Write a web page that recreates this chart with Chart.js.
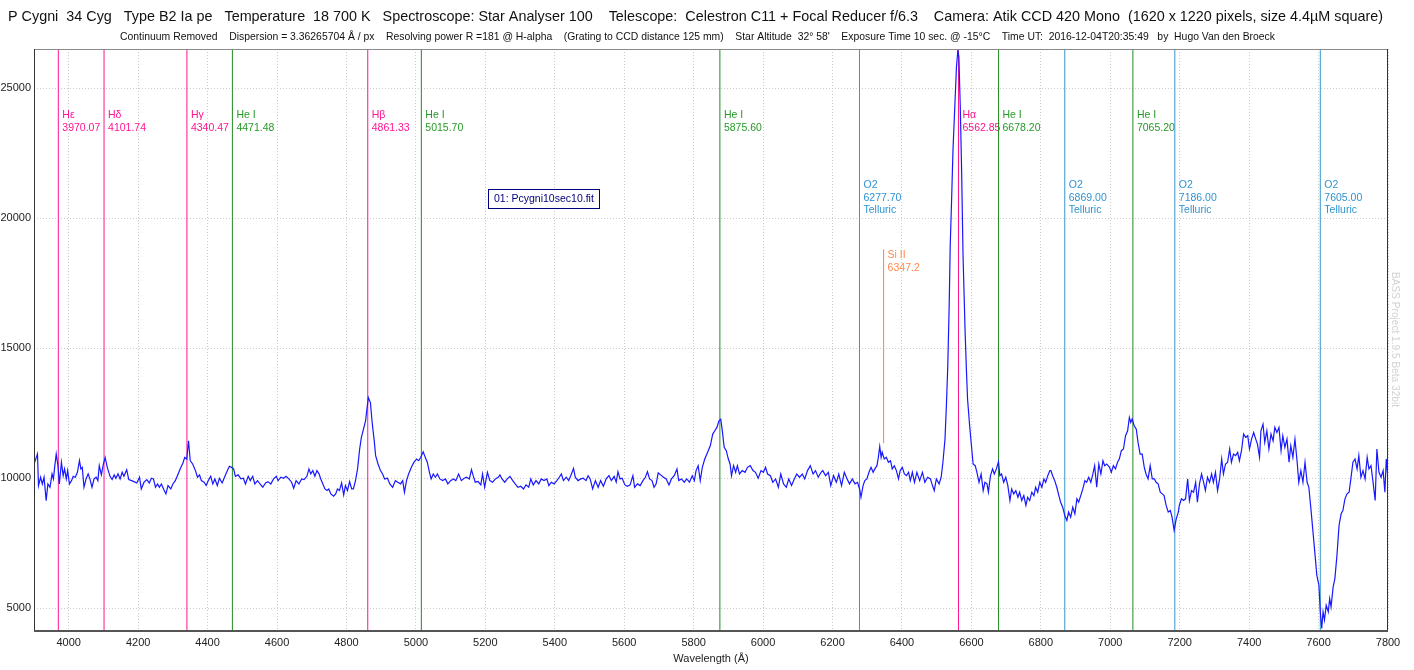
<!DOCTYPE html>
<html>
<head>
<meta charset="utf-8">
<script src="https://cdn.jsdelivr.net/npm/chart.js@4.4.1/dist/chart.umd.min.js"></script>
<style>
  html, body { margin: 0; padding: 0; background: #ffffff; }
  canvas { display: block; }
</style>
</head>
<body>
<canvas id="spec" width="1414" height="670"></canvas>
<script>
'use strict';

/* ── Data ────────────────────────────────────────── */
var titleMain = 'P Cygni  34 Cyg   Type B2 Ia pe   Temperature  18 700 K   Spectroscope: Star Analyser 100    Telescope:  Celestron C11 + Focal Reducer f/6.3    Camera: Atik CCD 420 Mono  (1620 x 1220 pixels, size 4.4µM square)';
var titleSub  = 'Continuum Removed    Dispersion = 3.36265704 Å / px    Resolving power R =181 @ H-alpha    (Grating to CCD distance 125 mm)    Star Altitude  32° 58\'    Exposure Time 10 sec. @ -15°C    Time UT:  2016-12-04T20:35:49   by  Hugo Van den Broeck';
var seriesName = '01: Pcygni10sec10.fit';
var watermark  = 'BASS Project 1.9.5 Beta 32bit';

var xTicks = [4000, 4200, 4400, 4600, 4800, 5000, 5200, 5400, 5600, 5800, 6000, 6200, 6400, 6600, 6800, 7000, 7200, 7400, 7600, 7800];
var yTicks = [5000, 10000, 15000, 20000, 25000];

/* identified lines */
var lineNames  = ['Hε', 'Hδ', 'Hγ', 'He I', 'Hβ', 'He I', 'He I', 'O2', 'Si II', 'Hα', 'He I', 'O2', 'He I', 'O2', 'O2'];
var lineWaves  = [3970.07, 4101.74, 4340.47, 4471.48, 4861.33, 5015.70, 5875.60, 6277.70, 6347.2, 6562.85, 6678.20, 6869.00, 7065.20, 7186.00, 7605.00];
var lineLabels = ['3970.07', '4101.74', '4340.47', '4471.48', '4861.33', '5015.70', '5875.60', '6277.70', '6347.2', '6562.85', '6678.20', '6869.00', '7065.20', '7186.00', '7605.00'];
var lineKinds  = ['H', 'H', 'H', 'He', 'H', 'He', 'He', 'O2', 'Si', 'H', 'He', 'O2', 'He', 'O2', 'O2'];
var siSpan     = [11350, 18800];   /* Si II tick drawn only over this flux range */

/* spectrum: [wavelength Å, flux] */
var spectrum = [
  [3900,10550],[3910,10930],[3913,9720],[3919,10040],[3924,9780],[3929,10040],[3935,9140],[3940,9780],[3946,9655],[3952,10170],
  [3956,9975],[3960,10485],[3964,10930],[3969,10485],[3973,9780],[3979,10610],[3984,10100],[3988,10360],[3993,9975],[3997,10295],
  [4002,9780],[4008,9910],[4013,10075],[4019,10040],[4025,10230],[4031,10680],[4035,10360],[4039,10420],[4044,9655],[4050,9975],
  [4056,10170],[4061,9975],[4067,9655],[4073,9975],[4079,10040],[4084,9910],[4088,10485],[4094,10130],[4100,10550],[4105,10800],
  [4111,10420],[4119,10075],[4125,9950],[4131,10130],[4136,10000],[4142,10170],[4148,9975],[4154,10230],[4159,10075],[4167,10330],
  [4173,9950],[4181,9910],[4188,9870],[4196,9820],[4204,10040],[4209,9590],[4217,9850],[4225,9950],[4232,9820],[4238,10000],
  [4244,9975],[4250,9655],[4256,9780],[4261,9655],[4267,9780],[4275,9530],[4280,9400],[4286,9720],[4294,9590],[4300,9780],
  [4307,9910],[4313,10100],[4321,10360],[4329,10590],[4334,10800],[4340,10740],[4345,11440],[4350,10680],[4357,10550],[4365,10295],
  [4371,10040],[4377,10130],[4382,9910],[4390,9850],[4396,9720],[4402,9910],[4409,10075],[4415,9780],[4421,9975],[4428,9720],
  [4434,10000],[4442,9820],[4450,10075],[4457,10295],[4463,10460],[4469,10420],[4475,10360],[4480,10075],[4488,10130],[4496,9975],
  [4503,10000],[4509,9780],[4517,10075],[4523,9910],[4530,10075],[4536,9780],[4544,9910],[4551,9780],[4559,9655],[4567,9820],
  [4574,9870],[4582,9780],[4590,9975],[4598,10075],[4603,9910],[4611,10040],[4619,10000],[4626,10075],[4634,9975],[4642,9850],
  [4648,9615],[4655,9910],[4663,9780],[4671,9975],[4678,9950],[4686,10075],[4692,10360],[4697,10170],[4703,10295],[4709,10075],
  [4715,10295],[4721,10170],[4726,9975],[4732,9780],[4738,9590],[4744,9530],[4749,9590],[4755,9400],[4763,9310],[4769,9400],
  [4774,9590],[4780,9530],[4786,9820],[4792,9360],[4797,9720],[4803,9530],[4809,9870],[4815,9590],[4820,9590],[4826,9910],
  [4832,10360],[4838,11125],[4843,11570],[4849,11890],[4855,12210],[4859,12660],[4863,13100],[4869,12910],[4874,12145],[4880,11440],
  [4884,10870],[4891,10550],[4898,10295],[4904,10165],[4910,9975],[4918,10000],[4925,9785],[4933,9655],[4941,9910],[4948,9850],
  [4956,9785],[4962,9910],[4967,9465],[4973,9910],[4979,10165],[4987,10420],[4994,10610],[5002,10740],[5008,10675],[5014,10805],
  [5021,11020],[5027,10805],[5033,10610],[5039,10230],[5044,9975],[5050,10165],[5056,10040],[5062,10165],[5069,9975],[5077,9910],
  [5085,9975],[5092,9785],[5100,9910],[5108,9975],[5115,9910],[5123,10165],[5131,9910],[5139,10000],[5146,10040],[5154,9975],
  [5160,10330],[5165,10100],[5171,9850],[5179,9875],[5187,9745],[5192,10165],[5198,9655],[5206,10230],[5213,9910],[5221,9850],
  [5229,9975],[5237,10040],[5242,10130],[5248,9975],[5256,9850],[5263,9975],[5271,10075],[5279,9910],[5286,9785],[5294,9655],
  [5302,9695],[5310,9590],[5317,9745],[5325,9655],[5331,9975],[5338,9745],[5346,9910],[5354,9785],[5361,9975],[5369,9910],
  [5377,9975],[5383,9720],[5390,9850],[5398,9785],[5406,9910],[5413,10040],[5419,10165],[5425,9910],[5433,10040],[5440,9910],
  [5446,10100],[5454,10380],[5459,10040],[5467,9910],[5475,9975],[5482,10000],[5490,9910],[5496,10100],[5502,9975],[5509,9590],
  [5517,9910],[5525,9655],[5532,9910],[5540,9695],[5548,9975],[5556,10100],[5563,9910],[5571,10075],[5577,9850],[5582,10255],
  [5588,9975],[5594,10000],[5602,9745],[5609,9695],[5617,9745],[5625,10100],[5630,9655],[5638,9785],[5646,9720],[5654,9910],
  [5661,10040],[5667,10255],[5673,9975],[5680,9910],[5686,9655],[5692,9785],[5698,10205],[5705,10130],[5713,10040],[5721,9975],
  [5729,9745],[5736,9975],[5744,10100],[5752,10355],[5757,9910],[5765,9975],[5773,9850],[5780,9975],[5788,9850],[5796,10100],
  [5802,9910],[5807,10295],[5813,10485],[5819,9910],[5825,10420],[5832,10740],[5840,10995],[5848,11250],[5855,11700],[5861,11825],
  [5867,11955],[5873,12210],[5878,12270],[5882,11890],[5888,11190],[5894,11060],[5900,10740],[5905,10550],[5909,10100],[5915,10485],
  [5921,10230],[5926,10485],[5932,10165],[5940,10295],[5948,10230],[5955,10420],[5963,10485],[5971,10295],[5978,10230],[5986,10000],
  [5994,10295],[6001,10230],[6007,10420],[6013,10165],[6021,10100],[6028,9845],[6036,9975],[6044,9655],[6051,10165],[6059,9785],
  [6067,9655],[6074,9975],[6082,9720],[6090,9975],[6097,10165],[6105,10040],[6113,10165],[6120,9975],[6128,10295],[6136,10485],
  [6144,10165],[6151,10295],[6159,10040],[6167,10230],[6172,10295],[6180,10100],[6188,10230],[6195,9720],[6203,10100],[6211,9845],
  [6218,10165],[6226,9720],[6234,10230],[6242,9975],[6249,9785],[6257,9975],[6265,9785],[6272,9845],[6278,9590],[6282,9270],
  [6288,9720],[6293,9910],[6299,9975],[6305,10230],[6311,10420],[6317,10230],[6322,10360],[6328,10485],[6332,10805],[6336,11225],
  [6340,10805],[6343,11000],[6349,10740],[6355,10805],[6361,10615],[6367,10675],[6372,10360],[6378,10485],[6384,10295],[6390,9975],
  [6395,10295],[6401,10420],[6407,10165],[6413,10100],[6419,10230],[6424,9910],[6430,10230],[6436,9845],[6443,10230],[6451,9910],
  [6459,10230],[6466,9845],[6474,10040],[6482,9975],[6488,9720],[6493,9525],[6499,9975],[6507,9785],[6513,10040],[6518,10615],
  [6524,11505],[6528,12785],[6532,14315],[6536,16615],[6539,18915],[6543,20700],[6547,22615],[6553,24530],[6557,25810],[6561,26450],
  [6564,26190],[6568,24275],[6572,21720],[6576,18530],[6582,15590],[6586,14060],[6589,13040],[6595,12020],[6601,11125],[6605,10550],
  [6611,10485],[6616,10230],[6622,9845],[6628,10165],[6634,9525],[6639,9845],[6645,9785],[6649,9465],[6655,10100],[6661,10360],
  [6666,10165],[6672,10360],[6678,10640],[6682,10100],[6687,10165],[6693,9845],[6699,10040],[6705,9720],[6711,9145],[6716,9590],
  [6722,9400],[6728,9525],[6734,9270],[6739,9465],[6745,9145],[6751,9335],[6757,8955],[6762,9270],[6768,9145],[6774,9465],
  [6780,9335],[6785,9655],[6791,9465],[6797,9845],[6803,9655],[6809,9975],[6814,9845],[6820,10100],[6826,10295],[6829,10295],
  [6834,10100],[6840,9910],[6846,9655],[6852,9335],[6857,9080],[6863,8890],[6869,8570],[6875,8380],[6880,8700],[6886,8505],
  [6892,8890],[6898,8635],[6904,9210],[6909,9080],[6915,9335],[6921,9590],[6927,9910],[6932,9845],[6938,10040],[6944,9845],
  [6950,10165],[6955,10485],[6961,9655],[6967,10550],[6973,10165],[6979,10675],[6984,10485],[6990,10550],[6998,10420],[7003,10230],
  [7009,10485],[7015,10360],[7021,10615],[7026,10740],[7032,11060],[7038,11125],[7044,11635],[7050,11825],[7055,12335],[7059,12145],
  [7063,12275],[7069,12020],[7075,11890],[7080,11380],[7086,10930],[7092,10930],[7098,10420],[7103,10165],[7109,9975],[7115,10485],
  [7121,9975],[7127,9975],[7132,9845],[7138,9785],[7144,9465],[7150,9400],[7155,9335],[7161,8955],[7167,8700],[7173,8760],
  [7178,8505],[7184,8000],[7190,8440],[7196,8700],[7199,8955],[7205,9210],[7211,9145],[7217,9210],[7223,9975],[7228,9145],
  [7234,9530],[7240,9465],[7246,9845],[7251,9080],[7257,9785],[7263,10165],[7269,9845],[7274,9530],[7280,10040],[7286,9845],
  [7292,10165],[7297,9845],[7303,10230],[7309,9530],[7315,9975],[7321,10740],[7326,10165],[7332,10550],[7338,10615],[7344,11125],
  [7349,10615],[7355,10930],[7361,10870],[7367,10995],[7372,10675],[7378,11060],[7384,11700],[7390,11570],[7396,11635],[7401,11125],
  [7407,11505],[7413,11760],[7419,11505],[7424,11315],[7430,10805],[7434,11825],[7440,12080],[7445,11380],[7451,11825],[7457,11125],
  [7463,11700],[7469,11440],[7474,11955],[7480,11760],[7486,11955],[7492,11060],[7497,11635],[7503,11190],[7509,11505],[7515,10615],
  [7520,11250],[7526,10805],[7532,11505],[7538,10675],[7543,9845],[7549,10295],[7555,9845],[7561,10615],[7567,9845],[7572,9655],
  [7578,8825],[7584,7930],[7590,7035],[7595,6270],[7601,5890],[7605,4870],[7609,4230],[7613,4870],[7617,4550],[7622,5120],
  [7628,4870],[7632,5375],[7636,5060],[7642,5825],[7647,6145],[7653,7035],[7659,8185],[7665,8635],[7670,8760],[7676,9210],
  [7682,9400],[7688,9465],[7693,9975],[7699,10615],[7705,10740],[7711,10360],[7716,10870],[7722,10040],[7728,10295],[7734,9975],
  [7740,10805],[7745,10360],[7751,10485],[7757,9845],[7763,9145],[7768,11125],[7774,10230],[7780,10040],[7786,10295],[7791,9465],
  [7795,10740],[7800,9975]
];

/* ── Look ────────────────────────────────────────── */
var FONT = "'Liberation Sans', Arial, sans-serif";
var markerStyle = {
  H:  { line: '#ff1493', text: '#ff1493', labelY: 115 },
  He: { line: '#228b22', text: '#259a25', labelY: 115 },
  O2: { line: '#3399cc', text: '#2f93cf', labelY: 185 },
  Si: { line: '#ff7f40', text: '#ff8a4c', labelY: 255 }
};

function fitText(ctx, text, x, y, width) {
  var w = ctx.measureText(text).width;
  ctx.save();
  ctx.translate(x, y);
  ctx.scale(width / w, 1);
  ctx.fillText(text, 0, 0);
  ctx.restore();
}

var decorations = {
  id: 'decorations',
  beforeDatasetsDraw: function (chart) {
    var ctx = chart.ctx, a = chart.chartArea, xs = chart.scales.x, ys = chart.scales.y;
    ctx.save();
    ctx.beginPath(); ctx.rect(a.left, a.top, a.right - a.left, a.bottom - a.top); ctx.clip();
    ctx.font = '10.5px ' + FONT;
    ctx.textBaseline = 'middle';
    ctx.textAlign = 'left';
    lineWaves.forEach(function (wl, i) {
      var st = markerStyle[lineKinds[i]];
      var px = xs.getPixelForValue(wl);
      var top = a.top, bot = a.bottom;
      if (lineKinds[i] === 'Si') { top = ys.getPixelForValue(siSpan[1]); bot = ys.getPixelForValue(siSpan[0]); }
      ctx.strokeStyle = st.line; ctx.lineWidth = 1;
      ctx.beginPath(); ctx.moveTo(px, top); ctx.lineTo(px, bot); ctx.stroke();
      ctx.fillStyle = st.text;
      var rows = [lineNames[i], lineLabels[i]];
      if (lineKinds[i] === 'O2') rows.push('Telluric');
      rows.forEach(function (t, r) { ctx.fillText(t, px + 4, st.labelY + r * 12.7); });
    });
    ctx.restore();
  },
  afterDatasetsDraw: function (chart) {
    var ctx = chart.ctx, a = chart.chartArea;
    ctx.save();
    /* frame */
    ctx.lineWidth = 1;
    ctx.strokeStyle = '#8a8a8a';
    ctx.beginPath(); ctx.moveTo(a.left, a.top + 0.5); ctx.lineTo(a.right, a.top + 0.5); ctx.stroke();
    ctx.strokeStyle = '#333333';
    ctx.beginPath(); ctx.moveTo(a.left + 0.5, a.top); ctx.lineTo(a.left + 0.5, a.bottom); ctx.stroke();
    ctx.beginPath(); ctx.moveTo(a.right - 0.5, a.top); ctx.lineTo(a.right - 0.5, a.bottom); ctx.stroke();
    ctx.lineWidth = 2; ctx.strokeStyle = '#555555';
    ctx.beginPath(); ctx.moveTo(a.left, a.bottom); ctx.lineTo(a.right, a.bottom); ctx.stroke();

    /* series name box */
    ctx.lineWidth = 1; ctx.strokeStyle = '#000080'; ctx.fillStyle = '#ffffff';
    ctx.fillRect(488.5, 189.5, 111, 19); ctx.strokeRect(488.5, 189.5, 111, 19);
    ctx.fillStyle = '#000080'; ctx.font = '10.5px ' + FONT; ctx.textBaseline = 'middle';
    ctx.fillText(seriesName, 494, 199.5);

    /* headings */
    ctx.fillStyle = '#111111'; ctx.textBaseline = 'middle';
    ctx.font = '14.5px ' + FONT;
    fitText(ctx, titleMain, 8, 17, 1375);
    ctx.font = '11px ' + FONT;
    fitText(ctx, titleSub, 120, 37, 1155);

    /* vertical watermark */
    ctx.fillStyle = '#d2d2d2'; ctx.font = '10.5px ' + FONT;
    ctx.translate(1394.5, 272); ctx.rotate(Math.PI / 2);
    fitText(ctx, watermark, 0, 0, 135);
    ctx.restore();
  }
};

function plainTick(v) { return String(v); }

new Chart(document.getElementById('spec'), {
  type: 'scatter',
  data: {
    datasets: [{
      label: seriesName,
      data: spectrum.map(function (p) { return { x: p[0], y: p[1] }; }),
      showLine: true,
      borderColor: 'rgb(24,24,255)',
      borderWidth: 1.2,
      pointRadius: 0,
      tension: 0
    }]
  },
  options: {
    responsive: false,
    animation: false,
    events: [],
    layout: { padding: { top: 49, right: 26, left: 0, bottom: 0 } },
    plugins: { legend: { display: false }, tooltip: { enabled: false } },
    scales: {
      x: {
        type: 'linear', min: 3900, max: 7800,
        afterBuildTicks: function (s) { s.ticks = xTicks.map(function (v) { return { value: v }; }); },
        afterFit: function (s) { s.height = 39; },
        ticks: { autoSkip: false, maxRotation: 0, color: '#222222', padding: 5, font: { family: FONT, size: 11 }, callback: plainTick },
        grid: { color: '#cccccc', drawTicks: false },
        border: { display: false, dash: [1, 2] },
        title: { display: true, text: 'Wavelength (Å)', color: '#222222', font: { family: FONT, size: 11 }, padding: { top: 2, bottom: 4 } }
      },
      y: {
        type: 'linear', min: 4130, max: 26500,
        afterBuildTicks: function (s) { s.ticks = yTicks.map(function (v) { return { value: v }; }); },
        afterFit: function (s) { s.width = 34; },
        ticks: { color: '#222222', padding: 3, font: { family: FONT, size: 11 }, callback: plainTick },
        grid: { color: '#cccccc', drawTicks: false },
        border: { display: false, dash: [1, 2] }
      }
    }
  },
  plugins: [decorations]
});
</script>
</body>
</html>
